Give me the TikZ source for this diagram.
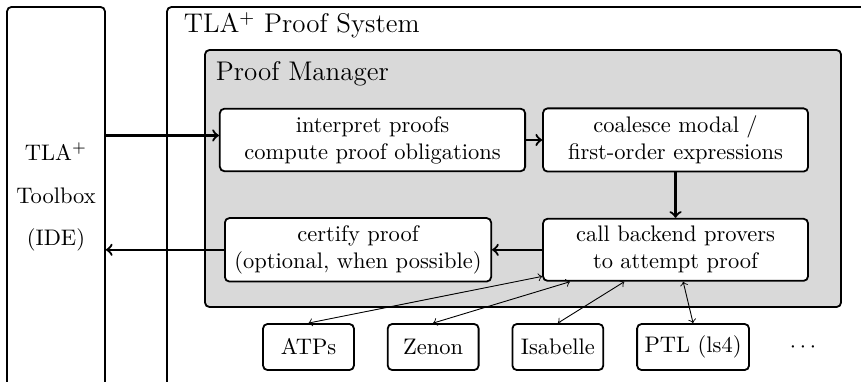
\documentclass[tikz,border=0pt]{standalone}
\usetikzlibrary{shapes, arrows, positioning}
\definecolor{managergray}{RGB}{217, 217, 217}

\begin{document}
\begin{tikzpicture}[
        stage/.style={rectangle, draw, thick, rounded corners=2pt, fill=white, minimum height=0.97cm, align=center},
        prover/.style={rectangle, draw, thick, rounded corners=2pt, fill=white, minimum width=1.42cm, minimum height=0.72cm},
        frame/.style={draw, thick, rounded corners=2pt},
        flow/.style={->, line width=1pt},
        node distance=0.5cm
    ]
        \useasboundingbox (0, 0) rectangle (13.453, 5.953);
        \clip (0, 0) rectangle (13.453, 5.953);

        \node[frame, minimum width=1.53cm, minimum height=5.94cm, align=center] (toolbox) at (0.875, 2.875) {TLA$^+$\\[7pt] Toolbox\\[7pt] (IDE)};

        \draw[frame] (2.609, -0.5) rectangle (14, 5.844);
        \node[anchor=base west, font=\large] (system) at (2.75, 5.4375) {TLA$^+$ Proof System};

        \draw[frame, fill=managergray] (3.203, 1.156) rectangle (13.141, 5.172);
        \node[anchor=base west, font=\large] (manager) at (3.25, 4.703) {Proof Manager};

        \node[stage, minimum width=4.77cm] (interpret) at (5.820, 3.766) {interpret proofs\\compute proof obligations};
        \node[stage, minimum width=4.14cm] (coalesce) at (10.555, 3.766) {coalesce modal /\\first-order expressions};
        \node[stage, minimum width=4.14cm] (call) at (10.555, 2.05) {call backend provers\\to attempt proof};
        \node[stage, minimum width=4.16cm] (certify) at (5.594, 2.05) {certify proof\\(optional, when possible)};

        \node[prover] (atps) at (4.820, 0.531) {ATPs};
        \node[prover, right=of atps] (zenon) {Zenon};
        \node[prover, right=of zenon] (isabelle) {Isabelle};
        \node[prover, right=of isabelle] (ptl) {PTL (ls4)};
        \node[right=of ptl] (more) {$\cdots$};

        \draw[flow] ([yshift=2pt]interpret.west -| toolbox.east) -- ([yshift=2pt]interpret.west);
        \draw[flow] (interpret) -- (coalesce);
        \draw[flow] (coalesce) -- (call);
        \draw[flow] (call) -- (certify);
        \draw[flow] (certify.west) -- (certify.west -| toolbox.east);

        \draw[<->] (atps.north) -- (call);
        \draw[<->] (zenon.north) -- (call);
        \draw[<->] (isabelle.north) -- (call);
        \draw[<->] (ptl.north) -- (call);
    \end{tikzpicture}
\end{document}
